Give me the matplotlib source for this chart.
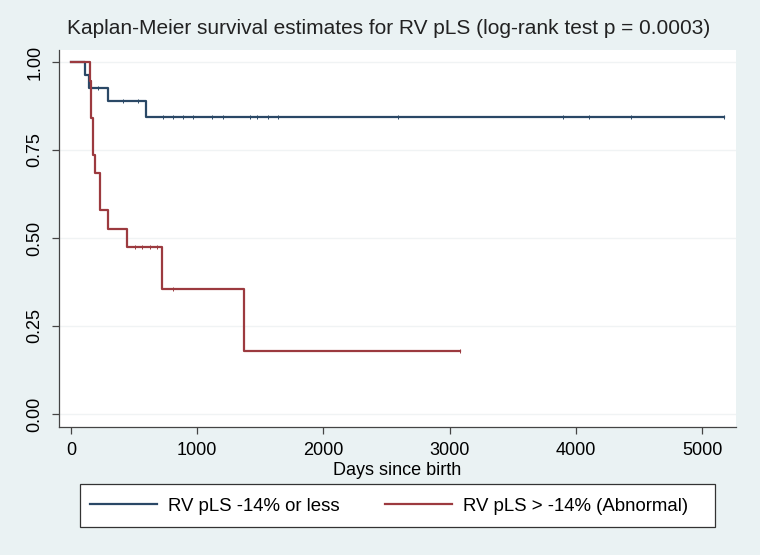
import numpy as np
import matplotlib.pyplot as plt
from matplotlib.patches import Rectangle
plt.rcParams.update({'font.family': ['Liberation Sans', 'DejaVu Sans'], 'font.size': 13})

#%% Data (days, survival)
t_normal = [0, 108, 140, 293, 594, 5174]
s_normal = [1.0, 0.963, 0.926, 0.889, 0.844, 0.844]
cens_t_normal = [214, 412, 531, 729, 808, 887, 967, 1117, 1204, 1418, 1474,
                 1561, 1640, 2591, 3899, 4105, 4437, 5174]
cens_s_normal = [0.926, 0.889, 0.889] + [0.844] * 15

t_abn = [0, 153, 161, 174, 190, 230, 293, 444, 721, 1371, 3082]
s_abn = [1.0, 0.947, 0.842, 0.737, 0.684, 0.579, 0.526, 0.474, 0.355, 0.178, 0.178]
cens_t_abn = [507, 563, 626, 681, 808, 3082]
cens_s_abn = [0.474, 0.474, 0.474, 0.474, 0.355, 0.178]

labels = ['RV pLS -14% or less', 'RV pLS > -14% (Abnormal)']
col_blue = '#2a4866'
col_red = '#9c3a3f'
bg = '#eaf2f3'

#%% Plot
fig = plt.figure(figsize=(7.6, 5.55), dpi=100, facecolor=bg)
ax = fig.add_axes([58.7/760, 1 - 427/555, (736 - 58.7)/760, (427 - 50)/555])
ax.set_facecolor('white')

ax.step(t_normal, s_normal, where='post', color=col_blue, lw=1.6, label=labels[0])
ax.step(t_abn, s_abn, where='post', color=col_red, lw=1.6, label=labels[1])
ax.plot(cens_t_normal, cens_s_normal, ls='none', marker='|', ms=3, mew=0.7, color=col_blue)
ax.plot(cens_t_abn, cens_s_abn, ls='none', marker='|', ms=3, mew=0.7, color=col_red)

ax.set_xlim(-97, 5269)
ax.set_ylim(-0.037, 1.034)
ax.set_xticks([0, 1000, 2000, 3000, 4000, 5000])
ax.set_yticks([0, 0.25, 0.5, 0.75, 1.0])
ax.set_yticklabels(['0.00', '0.25', '0.50', '0.75', '1.00'], rotation=90, va='center')
ax.grid(axis='y', color='#f0f3f4', lw=1)
ax.set_axisbelow(True)
for s in ['top', 'right']:
    ax.spines[s].set_visible(False)
for s in ['left', 'bottom']:
    ax.spines[s].set_color('#444444')
    ax.spines[s].set_linewidth(0.9)
ax.tick_params(axis='both', color='#444444', length=5, width=0.9)
ax.tick_params(axis='x', pad=6)
ax.tick_params(axis='y', pad=6)
ax.set_xlabel('Days since birth', labelpad=2)

fig.text(0.512, 1 - 28/555, 'Kaplan-Meier survival estimates for RV pLS (log-rank test p = 0.0003)',
         ha='center', va='center', fontsize=15, color='#222222')

# legend box drawn separately so the columns can sit where they do in the original
fig.patches.append(Rectangle((80/760, 1 - 527/555), 635/760, 43/555, transform=fig.transFigure,
                             facecolor='white', edgecolor='#333333', lw=0.9))
leg = fig.legend(loc='center left', ncol=2, bbox_to_anchor=(80/760, 1 - 506/555),
                 frameon=False, handlelength=3.6, handletextpad=0.6, columnspacing=2.4,
                 borderpad=0.55, borderaxespad=0, fontsize=13.4)

plt.savefig('out.png', dpi=100, facecolor=bg)
